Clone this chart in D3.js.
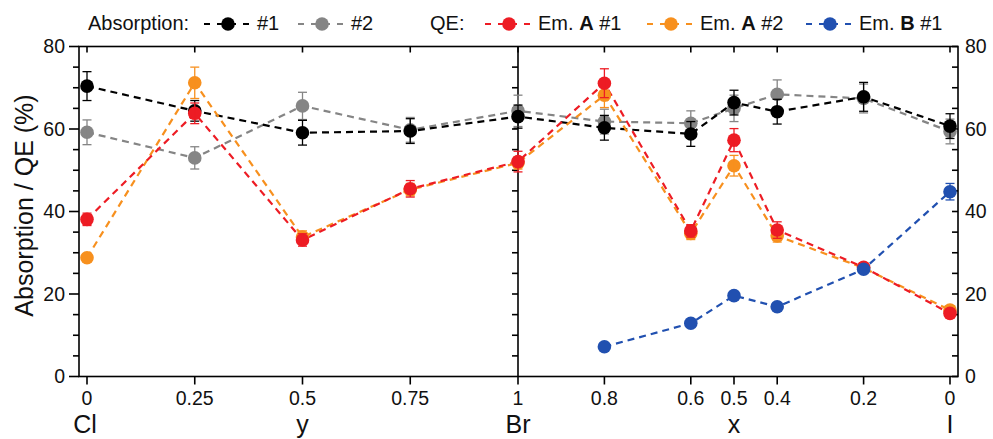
<!DOCTYPE html>
<html>
<head>
<meta charset="utf-8">
<script src="https://cdn.jsdelivr.net/npm/d3@7"></script>
<style>
  html, body { margin: 0; padding: 0; background: #fff; }
  svg { display: block; font-family: "Liberation Sans", Arial, sans-serif; }
</style>
</head>
<body>
<svg id="chart" width="993" height="439"></svg>
<script>
// ---------- data ----------
const compY = [0, 0.25, 0.5, 0.75, 1];          // Cl -> Br (y)
const compX = [0.8, 0.6, 0.5, 0.4, 0.2, 0];      // Br -> I (x)
const leftTickLabels = ["0", "0.25", "0.5", "0.75", "1"];
const rightTickLabels = ["0.8", "0.6", "0.5", "0.4", "0.2", "0"];
const yTicks = [0, 20, 40, 60, 80];

const absorption1    = [70.4, 64.4, 59.1, 59.5, 63.0, 60.3, 58.8, 66.4, 64.2, 67.8, 60.7];
const absorption1Err = [3.5, 2.5, 3.0, 3.0, 2.8, 3.0, 3.0, 3.0, 3.0, 3.5, 3.0];
const absorption2    = [59.2, 53.0, 65.6, 59.8, 64.4, 61.8, 61.4, 65.0, 68.4, 67.4, 59.4];
const absorption2Err = [3.0, 2.7, 3.3, 3.0, 3.8, 3.0, 3.0, 3.2, 3.5, 3.5, 3.0];
const qeA1    = [38.1, 63.8, 33.1, 45.5, 52.1, 71.1, 35.3, 57.3, 35.5, 26.5, 15.3];
const qeA1Err = [1.5, 2.5, 1.5, 2.0, 2.5, 3.5, 1.5, 2.8, 2.0, 1.0, 1.0];
const qeA2    = [28.8, 71.2, 33.8, 45.3, 51.8, 68.2, 34.7, 51.1, 34.1, 26.3, 16.1];
const qeA2Err = [0.5, 3.8, 1.5, 1.5, 1.5, 3.0, 1.5, 2.5, 1.5, 1.0, 1.0];
const qeB1    = [null, null, null, null, null, 7.2, 12.9, 19.6, 16.9, 26.0, 44.8];
const qeB1Err = [0, 0, 0, 0, 0, 0.5, 0.5, 0.5, 0.5, 0.5, 2.0];

const seriesNames = ["#1", "#2", "Em. A #1", "Em. A #2", "Em. B #1"];
const seriesColors = ["#000000", "#858585", "#f7901e", "#ed1c24", "#2150b0"];

// ---------- layout ----------
const svg = d3.select("#chart");
const frame = { left: 79, right: 958, top: 46.5, bottom: 376.5 };
const xLeft = d3.scaleLinear().domain([0, 1]).range([87, 518]);
const xRight = d3.scaleLinear().domain([1, 0]).range([518, 950]);
const y = d3.scaleLinear().domain([0, 80]).range([frame.bottom, frame.top]);

// combined x position for point index i
function px(i) {
  return i < compY.length ? xLeft(compY[i]) : xRight(compX[i - compY.length]);
}

function makeSeries(vals, errs, color) {
  return vals.map((v, i) => ({ i, v, e: errs[i], color })).filter(d => d.v !== null);
}
const series = [
  { name: "abs2", data: makeSeries(absorption2, absorption2Err, seriesColors[1]), color: seriesColors[1] },
  { name: "abs1", data: makeSeries(absorption1, absorption1Err, seriesColors[0]), color: seriesColors[0] },
  { name: "qeA2", data: makeSeries(qeA2, qeA2Err, seriesColors[2]), color: seriesColors[2] },
  { name: "qeA1", data: makeSeries(qeA1, qeA1Err, seriesColors[3]), color: seriesColors[3] },
  { name: "qeB1", data: makeSeries(qeB1, qeB1Err, seriesColors[4]), color: seriesColors[4] }
];

// ---------- frame & axes ----------
const axisG = svg.append("g").attr("stroke", "#000").attr("stroke-width", 1.6).attr("fill", "none");
axisG.append("rect")
  .attr("x", frame.left).attr("y", frame.top)
  .attr("width", frame.right - frame.left).attr("height", frame.bottom - frame.top);
axisG.append("line")
  .attr("x1", xLeft(1)).attr("x2", xLeft(1))
  .attr("y1", frame.top).attr("y2", frame.bottom);

// y ticks: every 5, major every 20
const yMinor = d3.range(0, 81, 5);
yMinor.forEach(t => {
  const major = t % 20 === 0;
  // left axis (outward)
  axisG.append("line").attr("x1", frame.left - (major ? 10 : 6)).attr("x2", frame.left)
    .attr("y1", y(t)).attr("y2", y(t));
  // divider (ticks to the left)
  if (t > 0 && t < 80)
    axisG.append("line").attr("x1", xLeft(1) - 6).attr("x2", xLeft(1))
      .attr("y1", y(t)).attr("y2", y(t));
  // right axis (inward)
  axisG.append("line").attr("x1", frame.right - 6).attr("x2", frame.right)
    .attr("y1", y(t)).attr("y2", y(t));
});

// x ticks: bottom outward, top inward
const xTickPos = compY.map(v => xLeft(v)).concat(compX.map(v => xRight(v)));
xTickPos.forEach(xp => {
  axisG.append("line").attr("x1", xp).attr("x2", xp).attr("y1", frame.bottom).attr("y2", frame.bottom + 8);
  axisG.append("line").attr("x1", xp).attr("x2", xp).attr("y1", frame.top).attr("y2", frame.top + 6);
});

// tick labels
const labG = svg.append("g").attr("fill", "#111").attr("font-size", 19.5);
yTicks.forEach(t => {
  labG.append("text").attr("x", frame.left - 14).attr("y", y(t)).attr("dy", "0.35em")
    .attr("text-anchor", "end").text(t);
  labG.append("text").attr("x", frame.right + 7).attr("y", y(t)).attr("dy", "0.35em")
    .attr("text-anchor", "start").text(t);
});
compY.forEach((v, k) => {
  labG.append("text").attr("x", xLeft(v)).attr("y", 405).attr("text-anchor", "middle").text(leftTickLabels[k]);
});
compX.forEach((v, k) => {
  labG.append("text").attr("x", xRight(v)).attr("y", 405).attr("text-anchor", "middle").text(rightTickLabels[k]);
});

// axis titles
const titleG = svg.append("g").attr("fill", "#111").attr("font-size", 25);
[["Cl", xLeft(0) - 2], ["y", xLeft(0.5)], ["Br", xLeft(1)], ["x", xRight(0.5)], ["I", xRight(0)]]
  .forEach(([t, xp]) => titleG.append("text").attr("x", xp).attr("y", 433).attr("text-anchor", "middle").text(t));
titleG.append("text")
  .attr("transform", `translate(33,${(frame.top + frame.bottom) / 2 - 6}) rotate(-90)`)
  .attr("text-anchor", "middle").text("Absorption / QE (%)");

// ---------- data lines ----------
const line = d3.line().x(d => px(d.i)).y(d => y(d.v));
const plotG = svg.append("g");
series.forEach(s => {
  plotG.append("path").datum(s.data)
    .attr("d", line).attr("fill", "none")
    .attr("stroke", s.color).attr("stroke-width", 2.2)
    .attr("stroke-dasharray", "7,5");
});
series.forEach(s => {
  const g = plotG.append("g");
  g.selectAll("circle").data(s.data).join("circle")
    .attr("cx", d => px(d.i)).attr("cy", d => y(d.v)).attr("r", 6.8)
    .attr("fill", s.color);
  const eg = g.append("g").attr("stroke", s.color).attr("stroke-width", 1.3);
  s.data.filter(d => d.e > 0.8).forEach(d => {
    const xp = px(d.i);
    eg.append("line").attr("x1", xp).attr("x2", xp).attr("y1", y(d.v - d.e)).attr("y2", y(d.v + d.e));
    eg.append("line").attr("x1", xp - 4.5).attr("x2", xp + 4.5).attr("y1", y(d.v + d.e)).attr("y2", y(d.v + d.e));
    eg.append("line").attr("x1", xp - 4.5).attr("x2", xp + 4.5).attr("y1", y(d.v - d.e)).attr("y2", y(d.v - d.e));
  });
});

// ---------- legend ----------
const legG = svg.append("g").attr("font-size", 20).attr("fill", "#111");
const legY = 24;
legG.append("text").attr("x", 88).attr("y", 30).text("Absorption:");
legG.append("text").attr("x", 430).attr("y", 30).text("QE:");
const legendItems = [
  { c: seriesColors[0], cx: 228, parts: [["#1", false]] },
  { c: seriesColors[1], cx: 322, parts: [["#2", false]] },
  { c: seriesColors[3], cx: 509, parts: [["Em. ", false], ["A", true], [" #1", false]] },
  { c: seriesColors[2], cx: 671, parts: [["Em. ", false], ["A", true], [" #2", false]] },
  { c: seriesColors[4], cx: 830, parts: [["Em. ", false], ["B", true], [" #1", false]] }
];
legendItems.forEach(it => {
  legG.append("line").attr("x1", it.cx - 24).attr("x2", it.cx + 25)
    .attr("y1", legY).attr("y2", legY)
    .attr("stroke", it.c).attr("stroke-width", 2.2).attr("stroke-dasharray", "6,7");
  legG.append("circle").attr("cx", it.cx).attr("cy", legY).attr("r", 6.8).attr("fill", it.c);
  const t = legG.append("text").attr("x", it.cx + 29).attr("y", 30);
  it.parts.forEach(([s, b]) => t.append("tspan").attr("font-weight", b ? "bold" : "normal").text(s));
});
</script>
</body>
</html>
